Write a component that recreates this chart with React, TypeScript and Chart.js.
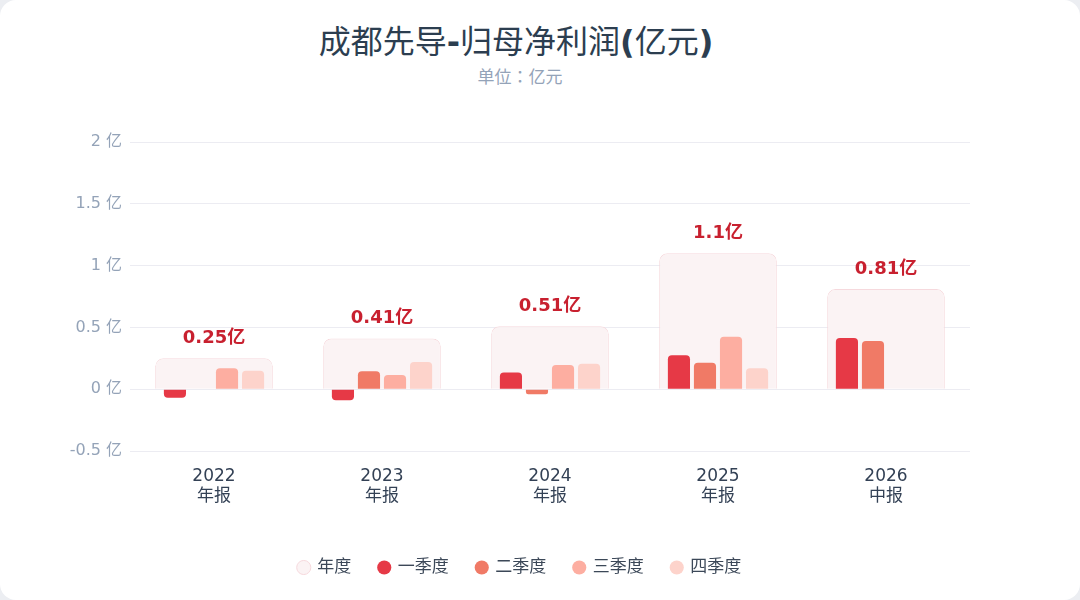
import { useEffect, useRef } from "react";
import { Chart, ChartConfiguration, Plugin, registerables } from "chart.js";

Chart.register(...registerables);

const years = ["2022", "2023", "2024", "2025", "2026"];
const reportTypes = ["年报", "年报", "年报", "年报", "中报"];
const annual = [0.25, 0.41, 0.51, 1.1, 0.81];
const q1 = [-0.07, -0.09, 0.135, 0.275, 0.415];
const q2 = [null, 0.145, -0.04, 0.215, 0.39];
const q3 = [0.17, 0.115, 0.195, 0.425, null];
const q4 = [0.15, 0.22, 0.205, 0.17, null];
const yTicks = [-0.5, 0, 0.5, 1, 1.5, 2];

const FONT = "'DejaVu Sans', 'Noto Sans CJK SC', sans-serif";
const CJK = "'Noto Sans CJK JP', 'DejaVu Sans', sans-serif";

// draws "x亿" above each annual box
const annualLabels: Plugin = {
  id: "annualLabels",
  afterDatasetsDraw(chart) {
    const meta = chart.getDatasetMeta(0);
    const ctx = chart.ctx;
    ctx.save();
    ctx.font = `bold 18px ${FONT}`;
    ctx.fillStyle = "#c8202f";
    ctx.textAlign = "center";
    ctx.textBaseline = "bottom";
    meta.data.forEach((bar: any, i) => {
      ctx.fillText(`${annual[i]}亿`, bar.x, bar.y - 11);
    });
    ctx.restore();
  },
};

export default function App() {
  const canvasRef = useRef<HTMLCanvasElement>(null);
  const chartRef = useRef<Chart | null>(null);

  useEffect(() => {
    if (!canvasRef.current) return;
    if (chartRef.current) chartRef.current.destroy();
    const ctx = canvasRef.current.getContext("2d");
    if (!ctx) return;

    const quarter = (label: string, data: (number | null)[], color: string) => ({
      label,
      data,
      backgroundColor: color,
      borderRadius: 4,
      borderSkipped: "start" as const,
      categoryPercentage: 0.62,
      barPercentage: 0.85,
      order: 1,
    });

    const config: ChartConfiguration = {
      type: "bar",
      data: {
        labels: years,
        datasets: [
          {
            label: "年度",
            data: annual,
            grouped: false,
            backgroundColor: "#fbf3f4",
            borderColor: "#f6d9dd",
            borderWidth: 1,
            borderRadius: 8,
            borderSkipped: "start",
            categoryPercentage: 0.7,
            barPercentage: 1,
            order: 2,
          },
          quarter("一季度", q1, "#e63946"),
          quarter("二季度", q2, "#f07a66"),
          quarter("三季度", q3, "#fdaea1"),
          quarter("四季度", q4, "#fdd3cb"),
        ] as any,
      },
      options: {
        responsive: true,
        maintainAspectRatio: false,
        animation: false,
        layout: { padding: { top: 142, left: 20, right: 60, bottom: 14 } },
        plugins: {
          title: { display: false },
          legend: {
            position: "bottom",
            labels: {
              usePointStyle: true,
              pointStyle: "circle",
              boxWidth: 10,
              boxHeight: 10,
              padding: 28,
              color: "#3c4858",
              font: { family: FONT, size: 17 },
              sort: (a: any, b: any) => a.datasetIndex - b.datasetIndex,
            },
          },
          tooltip: { enabled: false },
        },
        scales: {
          x: {
            grid: { display: false },
            border: { display: false },
            ticks: {
              color: "#334155",
              font: { family: FONT, size: 17 },
              padding: 7,
              callback: (_v: any, i: number) => [years[i], reportTypes[i]],
            },
            afterFit: (scale: any) => {
              scale.height = 80;
            },
          },
          y: {
            min: -0.5,
            max: 2,
            afterBuildTicks: (scale: any) => {
              scale.ticks = yTicks.map((v) => ({ value: v }));
            },
            grid: { color: "#ececf2", drawTicks: false },
            border: { display: false },
            ticks: {
              color: "#94a3b8",
              font: { family: FONT, size: 16 },
              padding: 8,
              callback: (v: any) => `${v} 亿`,
            },
            afterFit: (scale: any) => {
              scale.width = 110;
            },
          },
          // empty right gutter so legend centres like the reference
          yGutter: {
            position: "right",
            grid: { display: false },
            border: { display: false },
            ticks: { display: false },
            afterFit: (scale: any) => {
              scale.width = 50;
            },
          },
        },
      } as any,
      plugins: [annualLabels],
    };

    chartRef.current = new Chart(ctx, config);
    return () => {
      if (chartRef.current) chartRef.current.destroy();
    };
  }, []);

  const bold = { fontWeight: 700 };

  return (
    <div style={{ position: "fixed", inset: 0, background: "#eceef2" }}>
      <div
        style={{
          position: "absolute",
          inset: 0,
          background: "#ffffff",
          borderRadius: 16,
          overflow: "hidden",
        }}
      >
        <div
          style={{
            position: "absolute",
            left: 0,
            width: 1032,
            top: 23,
            textAlign: "center",
            fontFamily: FONT,
            fontSize: 32,
            lineHeight: "38px",
            color: "#2c3e50",
          }}
        >
          成都先导<span style={bold}>-</span>归母净利润<span style={bold}>(</span>亿元
          <span style={bold}>)</span>
        </div>
        <div
          style={{
            position: "absolute",
            left: 0,
            width: 1040,
            top: 66,
            textAlign: "center",
            fontFamily: CJK,
            fontSize: 17,
            lineHeight: "20px",
            color: "#94a3b8",
          }}
        >
          单位：亿元
        </div>
        <div style={{ position: "absolute", inset: 0 }}>
          <canvas ref={canvasRef} />
        </div>
      </div>
    </div>
  );
}
